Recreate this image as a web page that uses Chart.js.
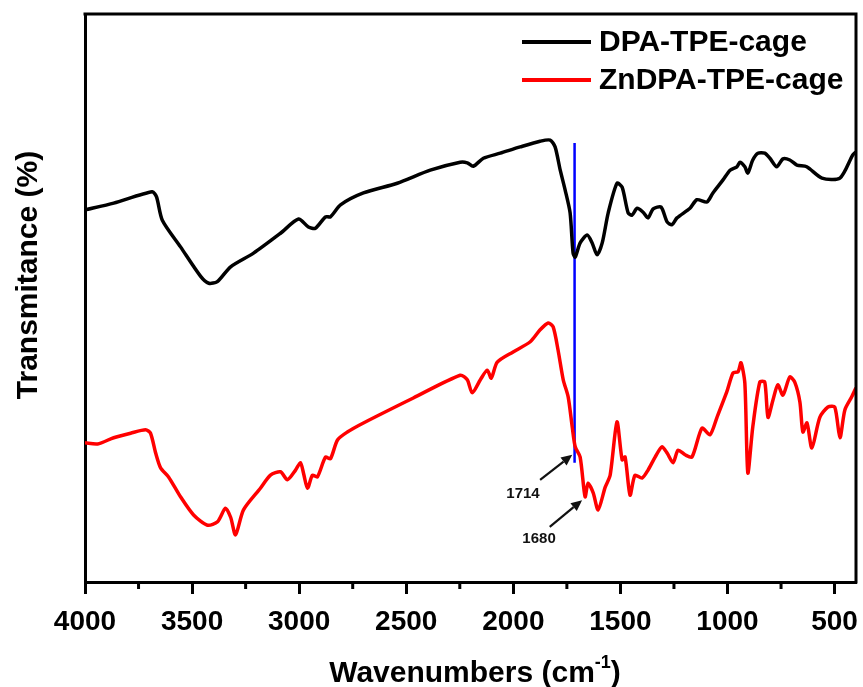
<!DOCTYPE html>
<html>
<head>
<meta charset="utf-8">
<script src="https://cdn.jsdelivr.net/npm/chart.js@4/dist/chart.umd.min.js"></script>
<style>
html,body{margin:0;padding:0;background:#fff;}
#wrap{width:863px;height:687px;position:relative;}
</style>
</head>
<body>
<div id="wrap"><canvas id="c"></canvas></div>
<script>
// ---- data (wavenumber in cm^-1, transmittance in arbitrary %) ----
const seriesNames = ["DPA-TPE-cage", "ZnDPA-TPE-cage"];
const xTickLabels = [4000, 3500, 3000, 2500, 2000, 1500, 1000, 500];

const dpaWn = [4000,3866,3686,3666,3639,3554,3460,3422,3382,3320,3213,3087,3003,2957,2924,2877,2854,2807,2700,2542,2388,2248,2215,2187,2140,2061,1968,1875,1828,1805,1781,1758,1735,1721,1711,1688,1655,1632,1609,1585,1557,1516,1492,1464,1446,1422,1394,1371,1347,1310,1282,1259,1236,1175,1143,1096,1068,1021,988,956,942,919,905,882,858,826,802,770,741,709,676,630,559,475,415,401];
const dpaT  = [65.5,66.7,68.7,67.8,63.7,59.0,53.8,52.6,52.9,55.5,57.9,61.4,63.9,62.5,62.3,64.3,64.3,66.4,68.5,70.2,72.5,73.9,73.8,73.2,74.6,75.5,76.6,77.6,77.8,76.6,72.5,69.0,65.0,57.9,57.2,59.7,61.1,59.7,57.6,59.7,65.0,70.2,69.5,65.0,64.6,65.8,65.1,64.1,65.7,66.0,63.4,62.9,64.1,65.8,67.3,66.9,68.5,70.8,72.5,73.1,73.9,73.1,72.0,74.3,75.5,75.5,74.6,73.1,74.5,74.3,73.4,73.1,71.1,71.1,75.2,75.7];

const znWn = [4000,3941,3866,3787,3717,3694,3670,3647,3610,3554,3493,3428,3381,3344,3320,3297,3260,3181,3134,3087,3055,3017,2994,2980,2961,2938,2915,2877,2854,2821,2775,2700,2467,2248,2215,2192,2154,2122,2103,2075,2001,1921,1875,1837,1814,1791,1767,1744,1725,1711,1688,1665,1651,1627,1604,1571,1548,1516,1492,1478,1455,1432,1399,1371,1338,1306,1282,1254,1231,1198,1166,1119,1082,1049,1003,974,951,937,919,905,882,849,826,811,788,765,741,709,686,662,648,629,606,569,531,499,475,452,420,400];
const znT  = [24.5,24.3,25.4,26.2,26.8,26.2,22.7,20.1,18.5,15.0,11.8,10.0,10.6,13.0,11.4,8.3,12.7,16.5,18.8,19.4,18.0,19.7,21.0,19.2,16.5,18.8,18.5,22.0,21.7,25.0,26.4,28.0,32.4,36.4,35.6,33.3,35.6,37.3,35.9,38.7,40.5,42.3,44.4,45.6,44.9,40.8,35.6,32.6,27.3,23.8,22.0,15.0,17.4,15.7,12.7,16.7,18.8,28.2,21.5,22.0,15.3,18.8,18.3,19.7,22.0,23.8,22.7,21.0,23.2,22.4,22.0,27.1,25.9,29.0,33.5,36.8,37.0,38.6,35.0,19.2,27.3,35.2,35.2,29.0,32.0,34.7,32.9,36.1,35.2,31.7,26.4,28.0,23.6,29.0,30.8,30.8,25.4,30.3,32.6,34.2];

// marker line at 1714 cm^-1
const markerWn = [1714, 1714];
const markerT  = [77.3, 21.0];

// annotations: label, arrow tail (wn,T), arrow tip (wn,T), label centre (wn,T)
const annoLabels = ["1714", "1680"];
const annoTail   = [[1875, 18.0], [1830, 9.7]];
const annoTip    = [[1725, 22.4], [1679, 14.4]];
const annoText   = [[1955, 15.5], [1880, 7.6]];

const FONT = "'Liberation Sans', Arial, Helvetica, sans-serif";

const toXY = (xs, ys) => xs.map((x, i) => ({x: x, y: ys[i]}));

const extras = {
  id: 'extras',
  afterDatasetsDraw(chart) {
    const ctx = chart.ctx, a = chart.chartArea;
    const xs = chart.scales.x, ys = chart.scales.y;
    ctx.save();
    // frame top and right
    ctx.strokeStyle = '#000'; ctx.lineWidth = 3;
    ctx.beginPath();
    ctx.moveTo(a.left - 1.5, a.top); ctx.lineTo(a.right, a.top); ctx.lineTo(a.right, a.bottom + 1.5);
    ctx.stroke();
    // minor ticks
    ctx.lineWidth = 3;
    for (let v = 3750; v > 400; v -= 500) {
      const px = xs.getPixelForValue(v);
      ctx.beginPath(); ctx.moveTo(px, a.bottom); ctx.lineTo(px, a.bottom + 7); ctx.stroke();
    }
    // annotations
    ctx.fillStyle = '#111'; ctx.strokeStyle = '#111'; ctx.lineWidth = 2.2;
    for (let i = 0; i < annoLabels.length; i++) {
      const x0 = xs.getPixelForValue(annoTail[i][0]), y0 = ys.getPixelForValue(annoTail[i][1]);
      const x1 = xs.getPixelForValue(annoTip[i][0]), y1 = ys.getPixelForValue(annoTip[i][1]);
      const ang = Math.atan2(y1 - y0, x1 - x0), L = 11, W = 5;
      const bx = x1 - L * Math.cos(ang), by = y1 - L * Math.sin(ang);
      ctx.beginPath(); ctx.moveTo(x0, y0); ctx.lineTo(bx, by); ctx.stroke();
      ctx.beginPath();
      ctx.moveTo(x1, y1);
      ctx.lineTo(bx + W * Math.sin(ang), by - W * Math.cos(ang));
      ctx.lineTo(bx - W * Math.sin(ang), by + W * Math.cos(ang));
      ctx.closePath(); ctx.fill();
      ctx.font = 'bold 15px ' + FONT; ctx.textAlign = 'center'; ctx.textBaseline = 'middle';
      ctx.fillText(annoLabels[i], xs.getPixelForValue(annoText[i][0]), ys.getPixelForValue(annoText[i][1]));
    }
    // legend
    const legY = [42, 80];
    chart.data.datasets.slice(0, 2).forEach((ds, i) => {
      ctx.strokeStyle = ds.borderColor; ctx.lineWidth = 4;
      ctx.beginPath(); ctx.moveTo(522, legY[i]); ctx.lineTo(591, legY[i]); ctx.stroke();
      ctx.fillStyle = '#000'; ctx.font = 'bold 30px ' + FONT;
      ctx.textAlign = 'left'; ctx.textBaseline = 'middle';
      ctx.fillText(ds.label, 599, legY[i] + 1);
    });
    // axis titles
    ctx.fillStyle = '#000';
    ctx.font = 'bold 30px ' + FONT; ctx.textBaseline = 'alphabetic'; ctx.textAlign = 'left';
    const t1 = 'Wavenumbers (cm', t2 = '-1', t3 = ')';
    const w1 = ctx.measureText(t1).width, w3 = ctx.measureText(t3).width;
    ctx.font = 'bold 18px ' + FONT; const w2 = ctx.measureText(t2).width;
    let sx = 475 - (w1 + w2 + w3) / 2; const by = 682;
    ctx.font = 'bold 30px ' + FONT; ctx.fillText(t1, sx, by); sx += w1;
    ctx.font = 'bold 18px ' + FONT; ctx.fillText(t2, sx, by - 14); sx += w2;
    ctx.font = 'bold 30px ' + FONT; ctx.fillText(t3, sx, by);
    ctx.translate(29, 275); ctx.rotate(-Math.PI / 2);
    ctx.textAlign = 'center'; ctx.textBaseline = 'middle';
    ctx.fillText('Transmitance (%)', 0, 0);
    ctx.restore();
  }
};

new Chart(document.getElementById('c'), {
  type: 'line',
  data: {
    datasets: [
      {label: seriesNames[0], data: toXY(dpaWn, dpaT), borderColor: '#000000', borderWidth: 3.5, pointRadius: 0, tension: 0.25, fill: false},
      {label: seriesNames[1], data: toXY(znWn, znT), borderColor: '#ff0000', borderWidth: 3.5, pointRadius: 0, tension: 0.25, fill: false},
      {label: 'marker', data: toXY(markerWn, markerT), borderColor: '#0000ff', borderWidth: 2.5, pointRadius: 0, tension: 0, fill: false}
    ]
  },
  options: {
    responsive: true, maintainAspectRatio: false, animation: false,
    layout: {padding: {top: 14, right: 7, left: 0, bottom: 0}},
    plugins: {legend: {display: false}, tooltip: {enabled: false}},
    scales: {
      x: {
        type: 'linear', reverse: true, min: 400, max: 4000,
        afterFit(s) { s.height = 105; s.paddingLeft = 0; s.paddingRight = 0; },
        afterBuildTicks(s) { s.ticks = xTickLabels.map(v => ({value: v})); },
        grid: {display: true, drawOnChartArea: false, drawTicks: true, tickLength: 12, tickWidth: 3, tickColor: '#000', color: '#000'},
        border: {display: true, width: 3, color: '#000'},
        ticks: {font: {family: FONT, size: 28, weight: 'bold'}, color: '#000', padding: 11, maxRotation: 0, autoSkip: false,
                callback: (v) => String(v)}
      },
      y: {
        min: 0, max: 100,
        afterFit(s) { s.width = 85; },
        grid: {display: false},
        border: {display: true, width: 3, color: '#000'},
        ticks: {display: false}
      }
    }
  },
  plugins: [extras]
});
</script>
</body>
</html>
